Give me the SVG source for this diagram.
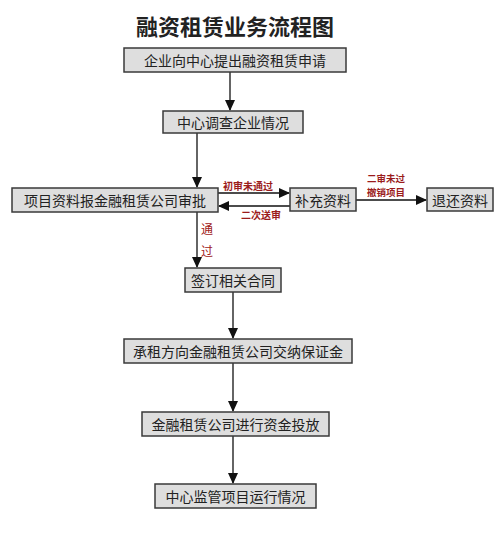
<svg xmlns="http://www.w3.org/2000/svg" width="504" height="536" viewBox="0 0 504 536">
<defs>
<style>
.box{fill:#dedede;stroke:#3a3a3a;stroke-width:1.5}
.bt{font-family:"Noto Sans CJK SC","Noto Sans CJK JP",sans-serif;font-size:14px;fill:#222;text-anchor:middle;dominant-baseline:central}
.ln{stroke:#111;stroke-width:1.3;fill:none}
.rl{font-family:"Noto Sans CJK SC",sans-serif;font-size:10px;font-weight:bold;fill:#9b1c1c;text-anchor:middle}
.rs{font-family:"Noto Sans CJK SC",sans-serif;font-size:9.5px;font-weight:bold;fill:#9b1c1c;text-anchor:middle}
.rv{font-family:"Noto Sans CJK SC",sans-serif;font-size:12px;fill:#a02020;text-anchor:middle}
</style>
<marker id="ah" markerWidth="11" markerHeight="10" refX="10" refY="5" orient="auto" markerUnits="userSpaceOnUse">
<path d="M0,0 L11,5 L0,10 z" fill="#111"/>
</marker>
</defs>
<rect width="504" height="536" fill="#ffffff"/>
<text x="235" y="35" font-family="Noto Sans CJK SC,sans-serif" font-size="22" font-weight="bold" fill="#222" text-anchor="middle">融资租赁业务流程图</text>
<g id="connectors">
<line class="ln" x1="230" y1="72" x2="230" y2="110" marker-end="url(#ah)"/>
<line class="ln" x1="197" y1="133" x2="197" y2="187" marker-end="url(#ah)"/>
<line class="ln" x1="218" y1="193" x2="289" y2="193" marker-end="url(#ah)"/>
<line class="ln" x1="290" y1="206" x2="219" y2="206" marker-end="url(#ah)"/>
<line class="ln" x1="356" y1="200" x2="426" y2="200" marker-end="url(#ah)"/>
<line class="ln" x1="197" y1="212" x2="197" y2="267" marker-end="url(#ah)"/>
<line class="ln" x1="233" y1="292" x2="233" y2="338" marker-end="url(#ah)"/>
<line class="ln" x1="233" y1="363" x2="233" y2="411" marker-end="url(#ah)"/>
<line class="ln" x1="233" y1="436" x2="233" y2="483" marker-end="url(#ah)"/>
<text class="rl" x="248" y="190">初审未通过</text>
<text class="rl" x="261" y="219">二次送审</text>
<text class="rs" x="386" y="182">二审未过</text>
<text class="rs" x="386" y="196">撤销项目</text>
<text class="rv" x="207" y="234">通</text>
<text class="rv" x="207" y="256">过</text>
</g>
<g id="n1"><rect class="box" x="124" y="48" width="222" height="24"/><text class="bt" x="235" y="60">企业向中心提出融资租赁申请</text></g>
<g id="n2"><rect class="box" x="163" y="111" width="140" height="22"/><text class="bt" x="233" y="122">中心调查企业情况</text></g>
<g id="n3"><rect class="box" x="12" y="188" width="206" height="24"/><text class="bt" x="115" y="200">项目资料报金融租赁公司审批</text></g>
<g id="n4"><rect class="box" x="290" y="188" width="66" height="23"/><text class="bt" x="323" y="199.5">补充资料</text></g>
<g id="n5"><rect class="box" x="427" y="188" width="66" height="23"/><text class="bt" x="460" y="199.5">退还资料</text></g>
<g id="n6"><rect class="box" x="185" y="268" width="96" height="24"/><text class="bt" x="233" y="280">签订相关合同</text></g>
<g id="n7"><rect class="box" x="124" y="339" width="228" height="24"/><text class="bt" x="238" y="351">承租方向金融租赁公司交纳保证金</text></g>
<g id="n8"><rect class="box" x="142" y="412" width="187" height="24"/><text class="bt" x="235.5" y="424">金融租赁公司进行资金投放</text></g>
<g id="n9"><rect class="box" x="155" y="484" width="161" height="24"/><text class="bt" x="235.5" y="496">中心监管项目运行情况</text></g>
</svg>
